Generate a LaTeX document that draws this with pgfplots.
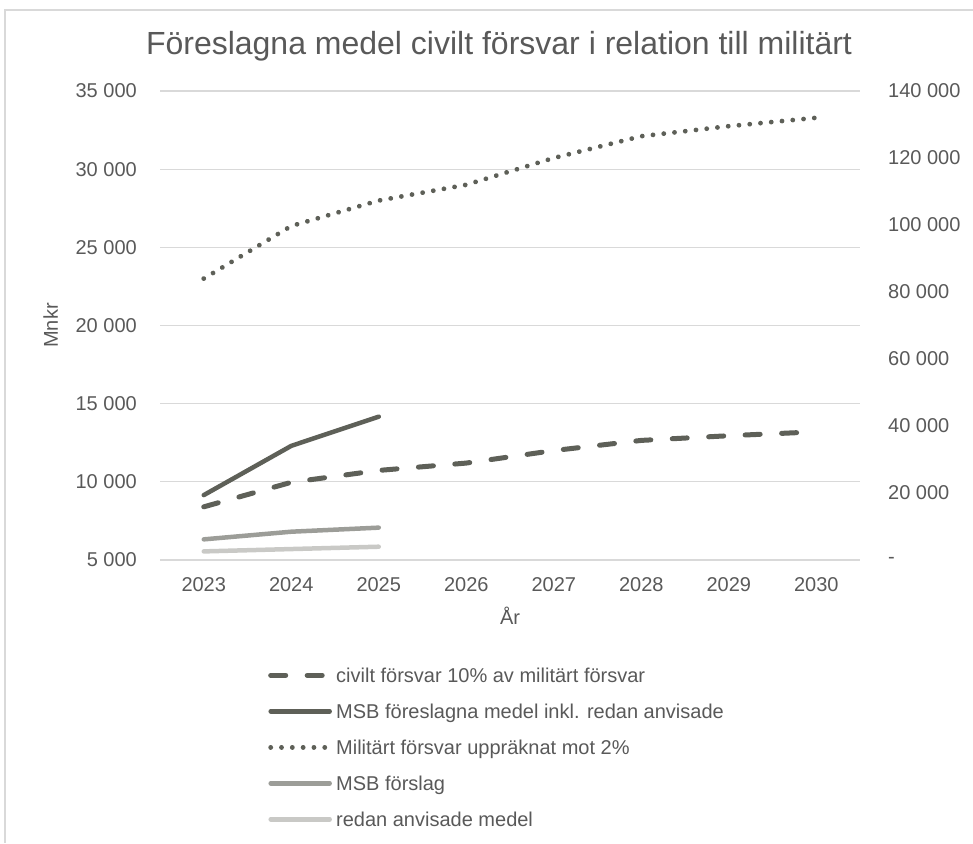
\documentclass[border=0pt]{standalone}
\usepackage{fontspec}
\setmainfont{Liberation Sans}
\usepackage{pgfplots}
\pgfplotsset{compat=1.18}
\definecolor{dk}{HTML}{5E6058}
\definecolor{md}{HTML}{9C9D98}
\definecolor{lt}{HTML}{C9C9C6}
\definecolor{txt}{HTML}{595959}
\definecolor{grd}{HTML}{D9D9D9}
\newcommand\fs{\fontsize{20}{24}\selectfont}
\tikzset{
  dashedS/.style={dk, line width=5pt, line cap=round, dash pattern=on 15pt off 21.5pt},
  dottedS/.style={dk, line width=4.8pt, line cap=round, dash pattern=on 0.01pt off 10.8pt},
  solidD/.style={dk, line width=4.5pt, line cap=round},
  solidM/.style={md, line width=4.5pt, line cap=round},
  solidL/.style={lt, line width=4.5pt, line cap=round},
}
\begin{document}
\begin{tikzpicture}
\path[use as bounding box] (0,0) rectangle (973pt,843pt);
\draw[grd, line width=1.5pt] (5pt,0) -- (5pt,833pt) -- (973pt,833pt);
\begin{axis}[
  at={(160pt,283pt)}, anchor=south west, scale only axis,
  width=700pt, height=469pt,
  xmin=2022.5, xmax=2030.5, ymin=5000, ymax=35000,
  scaled y ticks=false, scaled x ticks=false,
  xtick={2023,2024,2025,2026,2027,2028,2029,2030},
  xticklabels={2023,2024,2025,2026,2027,2028,2029,2030},
  ytick={5000,10000,15000,20000,25000,30000,35000},
  yticklabels={5 000,10 000,15 000,20 000,25 000,30 000,35 000},
  ymajorgrids, grid style={grd, line width=1.3pt},
  axis line style={draw=none}, major tick length=0pt,
  tick label style={font=\fs, text=txt, inner sep=0pt},
  yticklabel style={anchor=east, xshift=-23pt},
  xticklabel style={anchor=north, yshift=-17pt},
  xlabel={År},
  xlabel style={font=\fs, text=txt, inner sep=0pt, at={(axis description cs:0.5,-0.1002)}, anchor=north},
  ylabel={Mnkr},
  ylabel style={font=\fs, text=txt, inner sep=0pt, at={(axis description cs:-0.1457,0.5)}, anchor=south},
  title={Föreslagna medel civilt försvar i relation till militärt},
  title style={at={(axis description cs:0.4843,1.066)}, anchor=base, yshift=0pt, inner sep=0pt, font=\fontsize{32}{38}\selectfont, text=txt},
  legend image code/.code={\draw[#1] (2pt,2pt) -- (61pt,2pt);},
  legend cell align=left,
  legend style={at={(axis description cs:0.15,-0.224)}, anchor=north west, draw=none, fill=none,
    font=\fs, text=txt, row sep=16pt,
    nodes={inner sep=0pt, text height=15pt, text depth=5pt},
    /tikz/every odd column/.style={column sep=4pt}},
]
\addplot[dashedS] coordinates {(2023,8400) (2024,9970) (2025,10730) (2026,11200) (2027,12000) (2028,12650) (2029,12950) (2030,13200)};
\addlegendentry{civilt försvar 10\% av militärt försvar}
\addplot[solidD] coordinates {(2023,9150) (2024,12300) (2025,14170)};
\addlegendentry{MSB föreslagna medel inkl. redan anvisade}
\addlegendimage{dottedS}
\addlegendentry{Militärt försvar uppräknat mot 2\%}
\addplot[solidM] coordinates {(2023,6320) (2024,6810) (2025,7070)};
\addlegendentry{MSB förslag}
\addplot[solidL] coordinates {(2023,5550) (2024,5700) (2025,5850)};
\addlegendentry{redan anvisade medel}
\end{axis}
\begin{axis}[
  at={(160pt,283pt)}, anchor=south west, scale only axis,
  width=700pt, height=469pt,
  xmin=2022.5, xmax=2030.5, ymin=0, ymax=140000,
  scaled y ticks=false,
  axis x line=none, axis y line*=right,
  axis line style={draw=none}, major tick length=0pt,
  ytick={0,20000,40000,60000,80000,100000,120000,140000},
  yticklabels={-,20 000,40 000,60 000,80 000,100 000,120 000,140 000},
  tick label style={font=\fs, text=txt, inner sep=0pt},
  yticklabel style={anchor=west, xshift=28pt},
]
\addplot[dottedS] coordinates {(2023,84000) (2024,99700) (2025,107300) (2026,112000) (2027,120000) (2028,126500) (2029,129500) (2030,132000)};
\end{axis}
\end{tikzpicture}
\end{document}
